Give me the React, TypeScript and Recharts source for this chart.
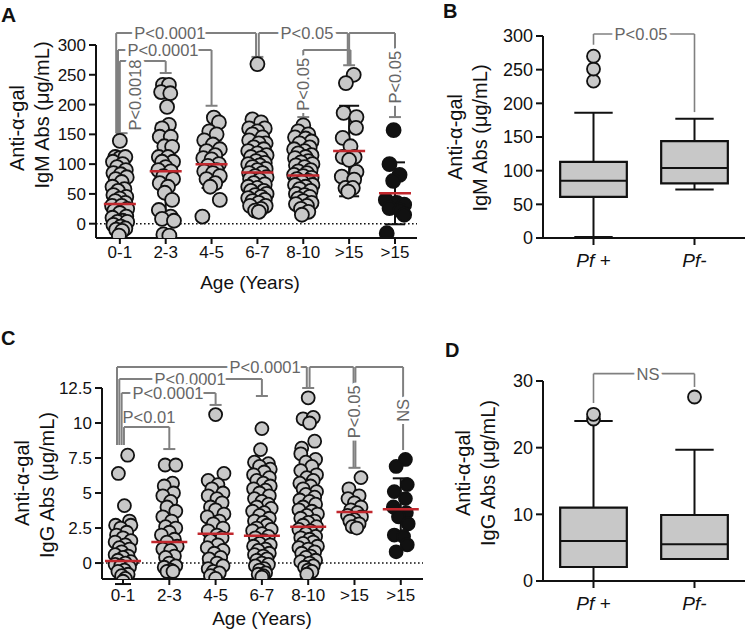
import React from 'react';
import { ScatterChart, Scatter, XAxis, YAxis, ReferenceLine, ReferenceDot, ReferenceArea, ErrorBar } from 'recharts';

const FONT = '"Liberation Sans", Arial, Helvetica, sans-serif';
const DOT_GRAY = '#c8c8c8';
const INK = '#111111';
const BRACKET = '#808080';
const LABEL_GRAY = '#666666';
const RED = '#c1272d';

type Pt = [number, number]; // [jitter, value]

const ageGroups = ['0-1', '2-3', '4-5', '6-7', '8-10', '>15', '>15'];

// Panel A - IgM
const igmPoints: Pt[][] = [
  [[0.0, 139], [-0.1, 112], [0.0, 110], [0.12, 112], [-0.15, 104], [0.06, 100], [-0.06, 95], [0.13, 90], [-0.14, 85], [0.02, 83], [0.15, 78], [-0.09, 75], [0.04, 70], [-0.16, 62], [0.1, 58], [-0.04, 55], [0.14, 45], [-0.14, 48], [0.0, 42], [0.12, 35], [-0.1, 38], [-0.17, 30], [0.04, 30], [0.16, 25], [-0.12, 22], [0.0, 18], [0.14, 12], [-0.16, 10], [0.06, 5], [-0.05, 3], [0.16, 3], [-0.14, -2], [0.02, -5], [0.12, -8], [-0.08, -10], [0.05, -12], [-0.02, -20]],
  [[-0.06, 233], [0.07, 233], [-0.1, 221], [0.1, 219], [0.03, 196], [0.07, 166], [-0.08, 160], [-0.13, 146], [0.11, 146], [-0.03, 130], [0.14, 129], [-0.15, 112], [0.05, 112], [0.16, 104], [-0.08, 104], [0.0, 95], [-0.16, 90], [0.11, 88], [-0.05, 80], [0.16, 75], [-0.13, 68], [0.05, 62], [-0.02, 52], [0.14, 40], [-0.15, 23], [0.11, 12], [-0.08, 8], [0.18, 5], [-0.05, -18], [0.08, -20]],
  [[0.05, 178], [0.16, 170], [-0.05, 155], [0.11, 150], [-0.16, 140], [0.03, 133], [0.18, 125], [-0.11, 122], [0.08, 115], [-0.18, 110], [0.0, 108], [0.16, 100], [-0.08, 97], [0.11, 90], [-0.16, 88], [0.03, 85], [0.18, 80], [-0.11, 75], [0.08, 68], [-0.03, 62], [0.18, 40], [-0.2, 12]],
  [[0.0, 268], [-0.11, 175], [0.08, 170], [-0.18, 160], [0.16, 160], [0.0, 155], [-0.11, 150], [0.11, 145], [-0.18, 140], [0.18, 135], [0.03, 135], [-0.08, 128], [0.14, 125], [-0.2, 122], [0.0, 118], [0.2, 115], [-0.14, 112], [0.08, 110], [-0.03, 105], [0.16, 102], [-0.2, 100], [0.05, 98], [-0.11, 95], [0.18, 92], [0.0, 90], [-0.18, 85], [0.11, 85], [-0.05, 80], [0.2, 78], [-0.16, 75], [0.05, 73], [-0.08, 68], [0.16, 66], [-0.2, 62], [0.0, 60], [0.14, 55], [-0.14, 55], [0.2, 50], [-0.05, 48], [0.08, 45], [-0.2, 43], [0.16, 40], [-0.11, 38], [0.03, 35], [0.18, 30], [-0.16, 30], [0.08, 25], [-0.05, 22], [0.03, 20]],
  [[0.0, 165], [-0.11, 155], [0.11, 150], [-0.18, 145], [0.05, 143], [0.18, 138], [-0.08, 135], [0.14, 128], [-0.2, 125], [0.03, 122], [-0.11, 118], [0.18, 115], [0.05, 112], [-0.18, 110], [0.11, 105], [-0.05, 103], [0.2, 100], [-0.16, 98], [0.03, 95], [0.16, 90], [-0.11, 88], [0.08, 85], [-0.2, 82], [0.0, 80], [0.18, 77], [-0.14, 75], [0.11, 72], [-0.03, 70], [0.2, 65], [-0.18, 65], [0.05, 62], [-0.08, 58], [0.16, 55], [-0.16, 50], [0.03, 48], [0.14, 45], [-0.11, 42], [0.0, 38], [0.18, 35], [-0.16, 33], [0.08, 30], [-0.05, 25], [0.11, 20], [-0.03, 15]],
  [[0.1, 250], [-0.07, 236], [-0.12, 186], [0.16, 179], [0.15, 161], [-0.14, 144], [0.03, 130], [-0.14, 112], [0.12, 112], [0.0, 107], [0.16, 87], [-0.16, 79], [0.11, 74], [-0.08, 60], [0.08, 60], [-0.02, 54]],
  [[-0.03, 157], [-0.12, 100], [0.1, 82], [-0.04, 72], [-0.2, 40], [0.04, 35], [0.2, 32], [-0.12, 26], [0.12, 22], [0.2, 15], [-0.18, -16]],
];
const igmMeans = [33, 88, 100, 86, 81, 122, 51];
const igmSds = [50, 80, 40, 42, 38, 76, 52];
const igmTicks = [0, 50, 100, 150, 200, 250, 300];

// Panel C - IgG
const iggPoints: Pt[][] = [
  [[0.1, 7.7], [-0.1, 6.4], [0.03, 4.1], [0.14, 3.0], [-0.16, 2.7], [0.17, 2.7], [-0.05, 2.5], [0.08, 2.2], [-0.14, 2.0], [0.0, 1.8], [0.17, 1.6], [-0.17, 1.5], [0.05, 1.3], [-0.08, 1.1], [0.14, 1.0], [-0.03, 0.8], [-0.17, 0.6], [0.11, 0.5], [0.0, 0.4], [-0.11, 0.2], [0.17, 0.1], [0.05, 0.0], [-0.17, -0.1], [-0.05, -0.2], [0.14, -0.3], [0.03, -0.5], [-0.11, -0.6], [0.11, -0.8], [-0.03, -0.9], [0.05, -1.1], [0.0, -1.3]],
  [[-0.09, 7.0], [0.14, 7.0], [0.07, 5.7], [-0.11, 5.5], [0.09, 5.0], [-0.14, 4.8], [0.03, 4.4], [-0.05, 4.0], [0.14, 3.7], [-0.14, 3.3], [0.05, 3.0], [-0.08, 2.6], [0.14, 2.5], [0.0, 2.2], [-0.17, 2.0], [0.11, 1.7], [-0.05, 1.5], [0.17, 1.2], [-0.14, 1.0], [0.03, 0.9], [0.11, 0.5], [-0.08, 0.4], [0.0, 0.0], [0.14, -0.2], [-0.11, -0.3], [0.03, -0.5], [-0.05, -0.6], [0.08, -0.6]],
  [[0.0, 10.6], [0.18, 6.4], [-0.16, 5.9], [0.05, 5.6], [-0.08, 5.3], [0.16, 5.0], [-0.16, 4.8], [0.03, 4.6], [0.14, 4.3], [-0.11, 4.0], [0.0, 3.8], [0.18, 3.5], [-0.18, 3.3], [0.08, 3.0], [-0.05, 2.8], [0.16, 2.5], [-0.16, 2.3], [0.03, 2.0], [0.14, 1.8], [-0.11, 1.6], [0.05, 1.3], [-0.18, 1.1], [0.16, 0.9], [-0.03, 0.7], [0.11, 0.4], [-0.14, 0.3], [0.03, 0.0], [0.16, -0.2], [-0.16, -0.4], [-0.05, -0.6], [0.08, -0.7], [-0.11, -0.9], [0.0, -1.1]],
  [[0.0, 9.6], [-0.03, 8.1], [-0.16, 7.2], [0.14, 7.1], [-0.05, 6.9], [0.18, 6.7], [0.05, 6.5], [-0.18, 6.3], [0.16, 6.1], [-0.11, 5.9], [0.03, 5.7], [0.18, 5.5], [-0.18, 5.3], [0.08, 5.2], [-0.05, 5.0], [0.16, 4.8], [-0.16, 4.6], [0.0, 4.4], [0.14, 4.2], [-0.11, 4.0], [0.2, 3.9], [-0.2, 3.7], [0.05, 3.6], [-0.05, 3.4], [0.16, 3.2], [-0.16, 3.0], [0.03, 2.9], [0.11, 2.7], [-0.11, 2.5], [0.2, 2.4], [-0.2, 2.3], [0.0, 2.1], [0.14, 1.9], [-0.14, 1.8], [0.05, 1.6], [-0.05, 1.4], [0.18, 1.3], [-0.18, 1.2], [0.08, 1.0], [-0.08, 0.9], [0.16, 0.7], [-0.16, 0.6], [0.03, 0.5], [0.11, 0.3], [-0.11, 0.2], [0.0, 0.0], [0.14, -0.1], [-0.14, -0.2], [0.05, -0.4], [-0.05, -0.5], [0.08, -0.7], [-0.08, -0.8], [0.03, -0.9], [0.0, -1.0]],
  [[0.0, 11.8], [-0.11, 10.3], [0.11, 10.4], [0.03, 10.0], [0.14, 8.7], [-0.14, 8.2], [-0.16, 7.8], [0.16, 7.4], [-0.05, 7.2], [0.08, 6.9], [-0.16, 6.6], [0.18, 6.3], [-0.03, 6.1], [0.11, 5.9], [-0.18, 5.7], [0.05, 5.5], [-0.11, 5.3], [0.18, 5.1], [-0.05, 4.9], [0.14, 4.7], [-0.18, 4.5], [0.03, 4.4], [0.16, 4.2], [-0.11, 4.0], [-0.2, 3.8], [0.08, 3.7], [0.2, 3.5], [-0.03, 3.4], [-0.16, 3.2], [0.14, 3.0], [0.0, 2.9], [-0.11, 2.7], [0.18, 2.6], [-0.2, 2.4], [0.05, 2.3], [-0.05, 2.1], [0.16, 1.9], [-0.16, 1.8], [0.03, 1.7], [0.11, 1.5], [-0.11, 1.4], [0.2, 1.2], [-0.2, 1.1], [0.0, 1.0], [0.14, 0.8], [-0.14, 0.7], [0.05, 0.5], [-0.05, 0.4], [0.16, 0.2], [-0.16, 0.1], [0.03, 0.0], [0.11, -0.2], [-0.08, -0.3], [0.0, -0.5], [0.08, -0.6], [-0.03, -0.8]],
  [[0.14, 6.1], [-0.12, 5.3], [0.1, 4.8], [-0.14, 4.6], [0.0, 4.3], [0.14, 4.0], [-0.08, 3.8], [0.06, 3.6], [-0.15, 3.4], [0.15, 3.3], [0.0, 3.1], [-0.1, 3.0], [0.1, 2.8], [-0.05, 2.6], [0.05, 2.5]],
  [[0.1, 7.4], [-0.1, 6.9], [0.14, 5.6], [-0.14, 5.1], [0.1, 4.6], [-0.16, 4.0], [0.12, 3.6], [-0.05, 3.3], [0.16, 2.8], [-0.14, 2.0], [0.06, 1.9], [0.14, 1.3], [-0.1, 0.8]],
];
const iggMeans = [0.15, 1.5, 2.1, 1.95, 2.6, 3.65, 3.85];
const iggSds = [1.65, 2.3, 2.6, 2.9, 3.0, 1.0, 2.2];
const iggTicks = [0, 2.5, 5, 7.5, 10, 12.5];

// Panels B and D - box plots by infection status
const infection = ['Pf +', 'Pf-'];
const igmBox = [
  { min: 1.5, q1: 61, median: 85, q3: 113, max: 186, outliers: [233, 251, 270] },
  { min: 72, q1: 81, median: 104, q3: 144, max: 177, outliers: [] as number[] },
];
const iggBox = [
  { min: 0, q1: 2.1, median: 6.0, q3: 11.0, max: 24.0, outliers: [24.3, 25.0] },
  { min: 3.3, q1: 3.3, median: 5.5, q3: 9.9, max: 19.7, outliers: [27.6] },
];
const igmBoxTicks = [0, 50, 100, 150, 200, 250, 300];
const iggBoxTicks = [0, 10, 20, 30];

type Bracket = {
  x1: number; x2: number; top: number; drop1: number; drop2: number;
  cap1?: number; cap2?: number; label: string; lx: number; ly: number;
  vertical?: boolean; noHalo?: boolean;
};

const igmBrackets: Bracket[] = [
  { x1: -0.08, x2: 2.97, top: 320, drop1: 152, drop2: 280, cap1: 0.04, cap2: 3.0, label: 'P<0.0001', lx: 1.09, ly: 320 },
  { x1: 3.03, x2: 4.97, top: 320, drop1: 280, drop2: 266, cap2: 5.0, label: 'P<0.05', lx: 4.08, ly: 320 },
  { x1: 5.0, x2: 6.0, top: 320, drop1: 266, drop2: 179, cap2: 6.0, label: 'P<0.05', lx: 6.0, ly: 246, vertical: true },
  { x1: -0.04, x2: 2.0, top: 291.6, drop1: 152, drop2: 198, cap2: 2.0, label: 'P<0.0001', lx: 0.94, ly: 291.6 },
  { x1: 0.0, x2: 1.0, top: 273, drop1: 152, drop2: 253, cap2: 1.0, label: 'P<0.0018', lx: 0.33, ly: 216, vertical: true },
  { x1: 4.0, x2: 5.03, top: 291.6, drop1: 179, drop2: 266, cap1: 4.0, label: 'P<0.05', lx: 4.0, ly: 234, vertical: true },
];
const iggBrackets: Bracket[] = [
  { x1: -0.13, x2: 3.97, top: 14.0, drop1: 8.43, drop2: 12.5, cap2: 4.0, label: 'P<0.0001', lx: 3.07, ly: 14.0 },
  { x1: 4.03, x2: 4.98, top: 14.0, drop1: 12.5, drop2: 6.8, cap2: 5.0, label: 'P<0.05', lx: 4.98, ly: 10.8, vertical: true },
  { x1: 5.02, x2: 6.05, top: 14.0, drop1: 6.8, drop2: 8.07, label: 'NS', lx: 6.05, ly: 10.9, vertical: true },
  { x1: -0.08, x2: 3.0, top: 13.14, drop1: 8.43, drop2: 11.93, cap2: 3.0, label: 'P<0.0001', lx: 1.45, ly: 13.14 },
  { x1: -0.03, x2: 2.0, top: 12.14, drop1: 8.43, drop2: 11.29, cap2: 2.0, label: 'P<0.0001', lx: 0.97, ly: 12.14 },
  { x1: 0.02, x2: 1.0, top: 9.71, drop1: 8.43, drop2: 8.14, cap2: 1.0, label: 'P<0.01', lx: 0.56, ly: 10.4, noHalo: true },
];
const igmBoxBracket: Bracket[] = [
  { x1: 0, x2: 1, top: 303, drop1: 287, drop2: 187, label: 'P<0.05', lx: 0.47, ly: 303 },
];
const iggBoxBracket: Bracket[] = [
  { x1: 0, x2: 1, top: 31.1, drop1: 26.7, drop2: 29.1, label: 'NS', lx: 0.54, ly: 31.1 },
];

const axisStyle = { stroke: INK, strokeWidth: 2 };

function PText({ cx, cy, text, vertical, size, halo }: any) {
  return (
    <text
      x={0}
      y={0}
      transform={`translate(${cx},${cy})${vertical ? ' rotate(-90)' : ''}`}
      textAnchor="middle"
      dominantBaseline="central"
      fontSize={size}
      fontFamily={FONT}
      fill={LABEL_GRAY}
      stroke={halo ? '#fff' : 'none'}
      strokeWidth={halo ? 7 : 0}
      strokeLinejoin="round"
      paintOrder="stroke"
    >
      {text}
    </text>
  );
}

function bracketParts(list: Bracket[], cap: number, id: string, size: number, width: number) {
  const line = { stroke: BRACKET, strokeWidth: width, ifOverflow: 'visible' as const };
  const out: React.ReactNode[] = [];
  list.forEach((b, i) => {
    const k = `${id}-${i}`;
    out.push(<ReferenceLine key={k + 't'} segment={[{ x: b.x1, y: b.top }, { x: b.x2, y: b.top }]} {...line} />);
    out.push(<ReferenceLine key={k + 'l'} segment={[{ x: b.x1, y: b.top }, { x: b.x1, y: b.drop1 }]} {...line} />);
    out.push(<ReferenceLine key={k + 'r'} segment={[{ x: b.x2, y: b.top }, { x: b.x2, y: b.drop2 }]} {...line} />);
    if (b.cap1 !== undefined)
      out.push(<ReferenceLine key={k + 'c1'} segment={[{ x: b.cap1 - cap, y: b.drop1 }, { x: b.cap1 + cap, y: b.drop1 }]} {...line} />);
    if (b.cap2 !== undefined)
      out.push(<ReferenceLine key={k + 'c2'} segment={[{ x: b.cap2 - cap, y: b.drop2 }, { x: b.cap2 + cap, y: b.drop2 }]} {...line} />);
  });
  list.forEach((b, i) => {
    out.push(
      <ReferenceDot
        key={`${id}-lab-${i}`}
        x={b.lx}
        y={b.ly}
        r={1}
        ifOverflow="visible"
        shape={(p: any) => <PText cx={p.cx} cy={p.cy} text={b.label} vertical={b.vertical} size={size} halo={!b.noHalo} />}
      />
    );
  });
  return out;
}

function toScatter(groups: Pt[][], which: number[]) {
  const out: { x: number; y: number }[] = [];
  which.forEach((g) => groups[g].forEach(([dx, v]) => out.push({ x: g + dx, y: v })));
  return out;
}

const dot = (r: number, fill: string) => (p: any) => (
  <circle cx={p.cx} cy={p.cy} r={r} fill={fill} stroke={INK} strokeWidth={1.8} />
);

const yTick = (size: number, fmt?: (v: number) => string) => (p: any) => (
  <text x={p.x} y={p.y} dy="0.35em" textAnchor="end" fontSize={size} fontFamily={FONT} fill={INK}>
    {fmt ? fmt(p.payload.value) : p.payload.value}
  </text>
);
const xTick = (labels: string[], size: number, down: number, italic?: boolean) => (p: any) => (
  <text x={p.x} y={p.y + down} textAnchor="middle" fontSize={size} fontFamily={FONT} fill={INK} fontStyle={italic ? 'italic' : 'normal'}>
    {labels[p.payload.value]}
  </text>
);

function DotPanel({ points, means, sds, ticks, domain, xDomain, brackets, width, height, margin, r, capPx, meanPx, fmt, down }: any) {
  const gray = toScatter(points, [0, 1, 2, 3, 4, 5]);
  const black = toScatter(points, [6]);
  const stats = means.map((m: number, g: number) => ({ x: g, y: m, sd: sds[g] }));
  return (
    <ScatterChart width={width} height={height} margin={margin}>
      <XAxis type="number" dataKey="x" domain={xDomain} allowDataOverflow ticks={[0, 1, 2, 3, 4, 5, 6]} axisLine={axisStyle} tickLine={axisStyle} tickSize={6} tickMargin={2} height={30} tick={xTick(ageGroups, 17, down)} interval={0} />
      <YAxis type="number" dataKey="y" domain={domain} allowDataOverflow ticks={ticks} axisLine={axisStyle} tickLine={axisStyle} tickSize={7} tickMargin={3} width={60} tick={yTick(17, fmt)} interval={0} />
      <ReferenceLine y={0} stroke={INK} strokeWidth={1.6} strokeDasharray="1.6 2.4" />
      {bracketParts(brackets, 0.13, 'br', 16.5, 2)}
      <Scatter data={gray} isAnimationActive={false} shape={dot(r, DOT_GRAY)} />
      <Scatter data={black} isAnimationActive={false} shape={dot(r, INK)} />
      <Scatter data={stats} isAnimationActive={false} shape={() => <g />}>
        <ErrorBar dataKey="sd" direction="y" width={capPx} stroke={INK} strokeWidth={2} />
      </Scatter>
      <Scatter
        data={stats}
        isAnimationActive={false}
        shape={(p: any) => <line x1={p.cx - meanPx} x2={p.cx + meanPx} y1={p.cy} y2={p.cy} stroke={RED} strokeWidth={2.5} />}
      />
    </ScatterChart>
  );
}

function BoxPanel({ boxes, ticks, domain, brackets, width, height, margin }: any) {
  const outliers: { x: number; y: number }[] = [];
  boxes.forEach((b: any, i: number) => b.outliers.forEach((v: number) => outliers.push({ x: i, y: v })));
  const st = { stroke: INK, strokeWidth: 2, ifOverflow: 'visible' as const };
  const parts: React.ReactNode[] = [];
  boxes.forEach((b: any, i: number) => {
    parts.push(<ReferenceLine key={`wu${i}`} segment={[{ x: i, y: b.q3 }, { x: i, y: b.max }]} {...st} />);
    parts.push(<ReferenceLine key={`wl${i}`} segment={[{ x: i, y: b.q1 }, { x: i, y: b.min }]} {...st} />);
    parts.push(<ReferenceLine key={`cu${i}`} segment={[{ x: i - 0.19, y: b.max }, { x: i + 0.19, y: b.max }]} {...st} />);
    parts.push(<ReferenceLine key={`cl${i}`} segment={[{ x: i - 0.19, y: b.min }, { x: i + 0.19, y: b.min }]} {...st} />);
    parts.push(<ReferenceArea key={`bx${i}`} x1={i - 0.33} x2={i + 0.33} y1={b.q1} y2={b.q3} fill={DOT_GRAY} fillOpacity={1} stroke={INK} strokeWidth={2.2} ifOverflow="visible" />);
    parts.push(<ReferenceLine key={`md${i}`} segment={[{ x: i - 0.33, y: b.median }, { x: i + 0.33, y: b.median }]} {...st} />);
  });
  return (
    <ScatterChart width={width} height={height} margin={margin}>
      <XAxis type="number" dataKey="x" domain={[-0.5, 1.5]} allowDataOverflow ticks={[0, 1]} axisLine={axisStyle} tickLine={axisStyle} tickSize={7} tickMargin={2} height={30} tick={xTick(infection, 19, 20, true)} interval={0} />
      <YAxis type="number" dataKey="y" domain={domain} allowDataOverflow ticks={ticks} axisLine={axisStyle} tickLine={axisStyle} tickSize={7} tickMargin={3} width={60} tick={yTick(18)} interval={0} />
      {parts}
      <Scatter data={outliers} isAnimationActive={false} shape={dot(6.5, DOT_GRAY)} />
      {bracketParts(brackets, 0.1, 'bb', 16.5, 1.6)}
    </ScatterChart>
  );
}

function Rot({ x, y, children, size = 20 }: any) {
  return (
    <text transform={`translate(${x},${y}) rotate(-90)`} textAnchor="middle" dominantBaseline="central" fontSize={size} fontFamily={FONT} fill={INK}>
      {children}
    </text>
  );
}

const fmtC = (v: number) => String(v);

export default function App() {
  return (
    <div style={{ position: 'absolute', left: 0, top: 0, width: 745, height: 631, background: '#fff', overflow: 'hidden' }}>
      <div style={{ position: 'absolute', left: 0, top: 0 }}>
        <DotPanel
          points={igmPoints} means={igmMeans} sds={igmSds} ticks={igmTicks}
          domain={[-24, 300]} xDomain={[-0.52, 6.48]} brackets={igmBrackets}
          width={425} height={300} margin={{ top: 45, right: 8, bottom: 32, left: 36 }}
          r={7} capPx={10} meanPx={16} down={12}
        />
      </div>
      <div style={{ position: 'absolute', left: 0, top: 310 }}>
        <DotPanel
          points={iggPoints} means={iggMeans} sds={iggSds} ticks={iggTicks}
          domain={[-1.14, 12.5]} xDomain={[-0.454, 6.48]} brackets={iggBrackets}
          width={425} height={321} margin={{ top: 78, right: 2, bottom: 22, left: 42 }}
          r={6.5} capPx={8} meanPx={18} fmt={fmtC} down={14}
        />
      </div>
      <div style={{ position: 'absolute', left: 430, top: 0 }}>
        <BoxPanel boxes={igmBox} ticks={igmBoxTicks} domain={[0, 300]} brackets={igmBoxBracket}
          width={315} height={300} margin={{ top: 36, right: 0, bottom: 32, left: 53 }} />
      </div>
      <div style={{ position: 'absolute', left: 430, top: 330 }}>
        <BoxPanel boxes={iggBox} ticks={iggBoxTicks} domain={[0, 30]} brackets={iggBoxBracket}
          width={315} height={301} margin={{ top: 51, right: 0, bottom: 20, left: 53 }} />
      </div>
      <svg width={745} height={631} style={{ position: 'absolute', left: 0, top: 0, pointerEvents: 'none' }}>
        <g fontFamily={FONT} fontWeight="bold" fill={INK}>
          <text x={1} y={22} fontSize={21}>A</text>
          <text x={443} y={18} fontSize={20}>B</text>
          <text x={1} y={345} fontSize={20}>C</text>
          <text x={445} y={357} fontSize={20}>D</text>
        </g>
        <Rot x={17} y={128}>Anti-α-gal</Rot>
        <Rot x={42} y={115}>IgM Abs (μg/mL)</Rot>
        <Rot x={22} y={483}>Anti-α-gal</Rot>
        <Rot x={47} y={485}>IgG Abs (μg/mL)</Rot>
        <Rot x={455} y={137}>Anti-α-gal</Rot>
        <Rot x={480} y={138}>IgM Abs (μg/mL)</Rot>
        <Rot x={463} y={473}>Anti-α-gal</Rot>
        <Rot x={488} y={473}>IgG Abs (μg/mL)</Rot>
        <text x={250} y={289} textAnchor="middle" fontSize={19} fontFamily={FONT} fill={INK}>Age (Years)</text>
        <text x={262} y={625} textAnchor="middle" fontSize={19} fontFamily={FONT} fill={INK}>Age (Years)</text>
      </svg>
    </div>
  );
}
